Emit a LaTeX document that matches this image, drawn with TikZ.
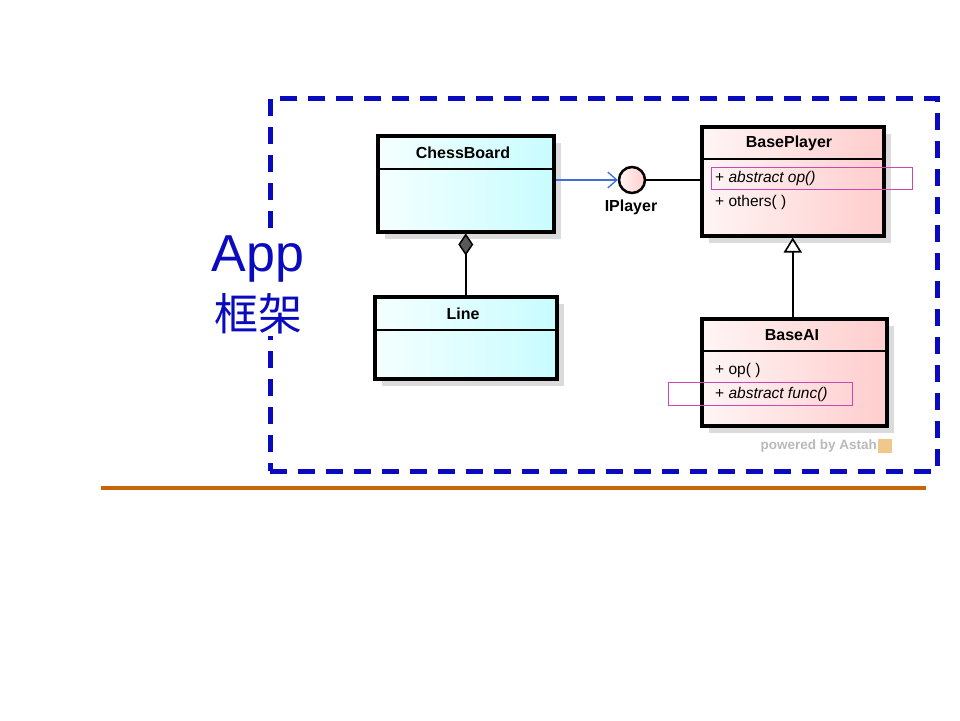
\documentclass[tikz,border=0pt]{standalone}
\usepackage{fontspec}
\setmainfont{Liberation Sans}
\newfontfamily\cjkfont{Noto Sans CJK SC}
\usetikzlibrary{arrows.meta,shadows}
\definecolor{frameblue}{RGB}{10,10,190}
\definecolor{rulebrown}{RGB}{200,100,10}
\definecolor{cyanL}{RGB}{245,255,255}
\definecolor{cyanR}{RGB}{200,252,255}
\definecolor{pinkL}{RGB}{255,245,245}
\definecolor{pinkR}{RGB}{255,205,205}
\definecolor{hilite}{RGB}{205,70,180}
\definecolor{assocblue}{RGB}{60,110,220}
\definecolor{astahgray}{RGB}{185,185,185}
\tikzset{
  umlbox/.style={draw, line width=3.5pt, inner sep=0pt, anchor=north west,
    drop shadow={shadow xshift=7pt, shadow yshift=-7pt, fill=black!14, opacity=1}},
  cyanbox/.style={umlbox, left color=cyanL, right color=cyanR},
  pinkbox/.style={umlbox, left color=pinkL, right color=pinkR},
  umltitle/.style={font=\fontsize{16}{19}\selectfont\bfseries, inner sep=0pt},
  umlop/.style={font=\fontsize{15.5}{18}\selectfont, inner sep=0pt, anchor=west},
  hibox/.style={draw=hilite, line width=1.1pt, inner sep=0pt, anchor=north west},
  divider/.style={line width=1.4pt},
  conn/.style={line width=2pt},
}
\begin{document}
\begin{tikzpicture}[x=1pt,y=-1pt]
\useasboundingbox (0,0) rectangle (960,720);
% frame
\node[draw=frameblue, line width=4.5pt, dash pattern=on 17pt off 11pt, inner sep=0pt,
  minimum width=667pt, minimum height=373pt, anchor=north west] (frame) at (268,96) {};
\node[text=frameblue, fill=white, font=\fontsize{52}{56}\selectfont, inner sep=2pt] (app) at (258,259) {App};
\node[text=frameblue, fill=white, font=\cjkfont\fontsize{44}{48}\selectfont, inner sep=2pt] (fw) at (258,314) {框架};
% rule
\coordinate (r1) at (101,488);
\coordinate (r2) at (926,488);
\draw[rulebrown, line width=4.5pt] (r1) -- (r2);

% ChessBoard
\node[cyanbox, minimum width=176pt, minimum height=96pt] (cb) at (376,134) {};
\draw[divider] ([yshift=-35pt]cb.north west) -- ([yshift=-35pt]cb.north east);
\node[umltitle] (cbt) at (463,153) {ChessBoard};

% Line
\node[cyanbox, minimum width=182pt, minimum height=82pt] (ln) at (373,295) {};
\draw[divider] ([yshift=-35pt]ln.north west) -- ([yshift=-35pt]ln.north east);
\node[umltitle] (lnt) at (463,314) {Line};

% BasePlayer
\node[pinkbox, minimum width=182pt, minimum height=109pt] (bp) at (700,125) {};
\draw[divider] ([yshift=-34pt]bp.north west) -- ([yshift=-34pt]bp.north east);
\node[umltitle] (bpt) at (789,143) {BasePlayer};
\node[umlop] (op1) at (715,178) {+ \textit{abstract op()}};
\node[umlop] (op2) at (715,202) {+ others( )};
\node[hibox, minimum width=201pt, minimum height=22pt] (hl1) at (711,167) {};

% BaseAI
\node[pinkbox, minimum width=185pt, minimum height=107pt] (ai) at (700,317) {};
\draw[divider] ([yshift=-34pt]ai.north west) -- ([yshift=-34pt]ai.north east);
\node[umltitle] (ait) at (792,335) {BaseAI};
\node[umlop] (op3) at (715,370) {+ op( )};
\node[umlop] (op4) at (715,394) {+ \textit{abstract func()}};
\node[hibox, minimum width=184pt, minimum height=23pt] (hl2) at (668,382) {};

% IPlayer interface
\node[circle, draw, line width=2.5pt, minimum size=26pt, inner sep=0pt,
  left color=pinkL, right color=pinkR] (ip) at (632,180) {};
\node[font=\fontsize{16}{19}\selectfont\bfseries, inner sep=0pt] (ipl) at (631,207) {IPlayer};

% connectors
\draw[assocblue, line width=1.3pt, -{Straight Barb[length=9pt,width=16pt,line width=1.3pt]}]
  (cb.east |- ip.west) -- (ip.west);
\draw[conn] (ip.east) -- (ip.east -| bp.west);
\draw[conn, {Diamond[length=22pt,width=15pt,fill=gray!70!black,line width=1.5pt]}-]
  (cb.south) -- (ln.north);
\draw[conn, -{Triangle[open,length=15pt,width=18pt,line width=1.6pt]}]
  (ai.north -| bp.south) -- (bp.south);

% powered by Astah
\node[text=astahgray, font=\fontsize{13.5}{16}\selectfont\bfseries, inner sep=0pt, anchor=east] (pw) at (877,446) {powered by Astah};
\node[fill={rgb,255:red,240;green,200;blue,140}, minimum size=14pt, inner sep=0pt, anchor=west] (logo) at (878,446) {};
\end{tikzpicture}
\end{document}
